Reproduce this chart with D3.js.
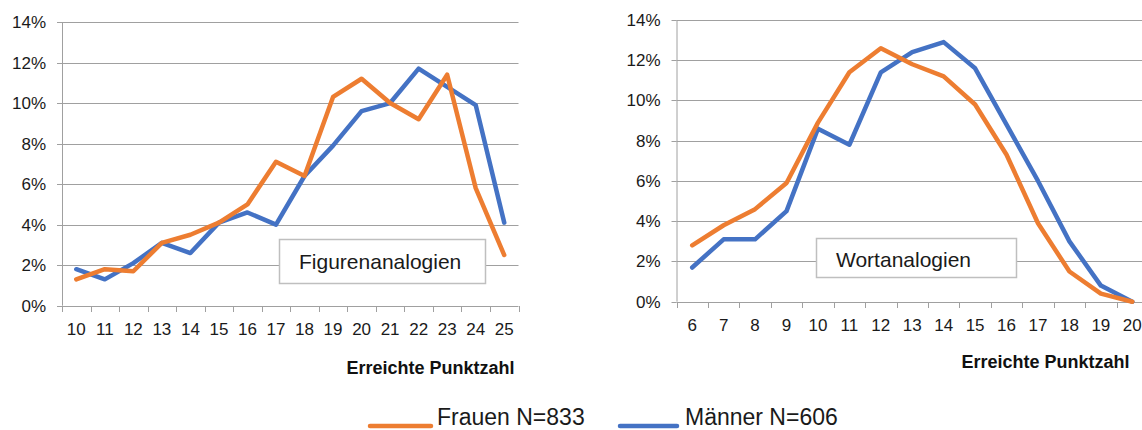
<!DOCTYPE html>
<html>
<head>
<meta charset="utf-8">
<script src="https://cdn.jsdelivr.net/npm/d3@7/dist/d3.min.js"></script>
<style>
  html, body { margin: 0; padding: 0; background: #fff; }
  svg { display: block; font-family: "Liberation Sans", Arial, sans-serif; }
</style>
</head>
<body>
<svg id="chart" width="1142" height="430"></svg>
<script>
// ---------- data ----------
const figCategories = ["10","11","12","13","14","15","16","17","18","19","20","21","22","23","24","25"];
const figFrauen  = [1.3, 1.8, 1.7, 3.1, 3.5, 4.1, 5.0, 7.1, 6.4, 10.3, 11.2, 10.0, 9.2, 11.4, 5.8, 2.5];
const figMaenner = [1.8, 1.3, 2.1, 3.1, 2.6, 4.1, 4.6, 4.0, 6.4, 7.9, 9.6, 10.0, 11.7, 10.8, 9.9, 4.1];

const wortCategories = ["6","7","8","9","10","11","12","13","14","15","16","17","18","19","20"];
const wortFrauen  = [2.8, 3.8, 4.6, 5.9, 8.9, 11.4, 12.6, 11.8, 11.2, 9.8, 7.3, 3.9, 1.5, 0.4, 0.0];
const wortMaenner = [1.7, 3.1, 3.1, 4.5, 8.6, 7.8, 11.4, 12.4, 12.9, 11.6, 8.8, 6.0, 3.0, 0.8, 0.0];

const yTicks = [0, 2, 4, 6, 8, 10, 12, 14];
const seriesNames = ["Frauen N=833", "Männer N=606"];
const axisTitle = "Erreichte Punktzahl";
const panelTitles = ["Figurenanalogien", "Wortanalogien"];

// ---------- styles ----------
const COL_F = "#ED7D31";
const COL_M = "#4472C4";
const GRID = "#a0a0a0";
const TICK_FONT = 17;

const svg = d3.select("#chart");

function drawPanel(cfg) {
  const x = d3.scaleBand().domain(cfg.categories).range([cfg.x0, cfg.x1]).padding(0);
  const y = d3.scaleLinear().domain([0, 14]).range([cfg.yBottom, cfg.yTop]);
  const g = svg.append("g");

  // gridlines
  g.append("g").selectAll("line").data(yTicks.filter(d => d > 0)).join("line")
    .attr("x1", cfg.x0).attr("x2", Math.min(cfg.x1, 1142))
    .attr("y1", d => Math.round(y(d)) + 0.5).attr("y2", d => Math.round(y(d)) + 0.5)
    .attr("stroke", GRID).attr("stroke-width", 1);

  // y axis
  const yAxis = g.append("g").attr("transform", `translate(${cfg.x0},0)`)
    .call(d3.axisLeft(y).tickValues(yTicks).tickFormat(d => d + "%").tickSize(5).tickPadding(11));
  yAxis.select(".domain").attr("stroke", GRID).attr("d", `M0.5,${cfg.yTop}V${cfg.yBottom}`);
  yAxis.selectAll(".tick line").attr("stroke", GRID)
    .attr("transform", function() { return "translate(0,0)"; });
  yAxis.selectAll(".tick").attr("transform", d => `translate(0,${Math.round(y(d)) + 0.5})`);
  yAxis.selectAll("text").attr("font-size", TICK_FONT).attr("fill", "#1a1a1a")
    .attr("font-family", "Liberation Sans, Arial, sans-serif");

  // x axis (labels at band centres)
  const xAxis = g.append("g").attr("transform", `translate(0,${Math.round(cfg.yBottom) + 0.5})`)
    .call(d3.axisBottom(x).tickSize(0));
  xAxis.select(".domain").remove();
  xAxis.selectAll("text").attr("font-size", TICK_FONT).attr("fill", "#1a1a1a")
    .attr("font-family", "Liberation Sans, Arial, sans-serif")
    .attr("dy", null).attr("y", cfg.labelOffset);
  // axis line + boundary tick marks
  g.append("line").attr("x1", cfg.x0).attr("x2", cfg.x1)
    .attr("y1", Math.round(cfg.yBottom) + 0.5).attr("y2", Math.round(cfg.yBottom) + 0.5)
    .attr("stroke", GRID);
  const bounds = cfg.categories.map(c => x(c)).concat([x(cfg.categories[cfg.categories.length - 1]) + x.bandwidth()]);
  g.append("g").selectAll("line").data(bounds).join("line")
    .attr("x1", d => Math.round(d) + 0.5).attr("x2", d => Math.round(d) + 0.5)
    .attr("y1", Math.round(cfg.yBottom)).attr("y2", Math.round(cfg.yBottom) + 6)
    .attr("stroke", GRID);

  // title box
  const box = g.append("g");
  box.append("rect").attr("x", cfg.box[0] + 0.5).attr("y", cfg.box[1] + 0.5)
    .attr("width", cfg.box[2]).attr("height", cfg.box[3])
    .attr("fill", "#fff").attr("stroke", "#bfbfbf").attr("stroke-width", 1.5);
  box.append("text").attr("x", cfg.box[0] + 20).attr("y", cfg.boxBaseline)
    .attr("font-size", 21).attr("fill", "#1a1a1a").text(cfg.title);

  // lines
  const line = d3.line().x((d, i) => x(cfg.categories[i]) + x.bandwidth() / 2).y(d => y(d));
  [[cfg.maenner, COL_M], [cfg.frauen, COL_F]].forEach(([vals, col]) => {
    g.append("path").datum(vals).attr("d", line)
      .attr("fill", "none").attr("stroke", col).attr("stroke-width", 4.5)
      .attr("stroke-linejoin", "round").attr("stroke-linecap", "round");
  });

  // axis title
  g.append("text").attr("x", cfg.titleX).attr("y", cfg.titleY)
    .attr("font-size", 18).attr("font-weight", "bold").attr("fill", "#111").text(axisTitle);
}

drawPanel({
  categories: figCategories, frauen: figFrauen, maenner: figMaenner,
  x0: 62, x1: 518.5, yTop: 22, yBottom: 305.7, labelOffset: 28,
  box: [279, 239, 206, 44], boxBaseline: 269, title: panelTitles[0],
  titleX: 346.5, titleY: 374
});

drawPanel({
  categories: wortCategories, frauen: wortFrauen, maenner: wortMaenner,
  x0: 676.5, x1: 1148, yTop: 20, yBottom: 301.7, labelOffset: 28,
  box: [816, 238, 200, 39], boxBaseline: 267, title: panelTitles[1],
  titleX: 961.5, titleY: 368
});

// legend
const legend = svg.append("g");
const legendItems = [
  { name: seriesNames[0], col: COL_F, x1: 370, x2: 431, tx: 437 },
  { name: seriesNames[1], col: COL_M, x1: 620, x2: 677, tx: 685 }
];
legendItems.forEach(it => {
  legend.append("line").attr("x1", it.x1).attr("x2", it.x2).attr("y1", 426).attr("y2", 426)
    .attr("stroke", it.col).attr("stroke-width", 4.5).attr("stroke-linecap", "round");
  legend.append("text").attr("x", it.tx).attr("y", 425).attr("font-size", 23)
    .attr("fill", "#1a1a1a").text(it.name);
});
</script>
</body>
</html>
